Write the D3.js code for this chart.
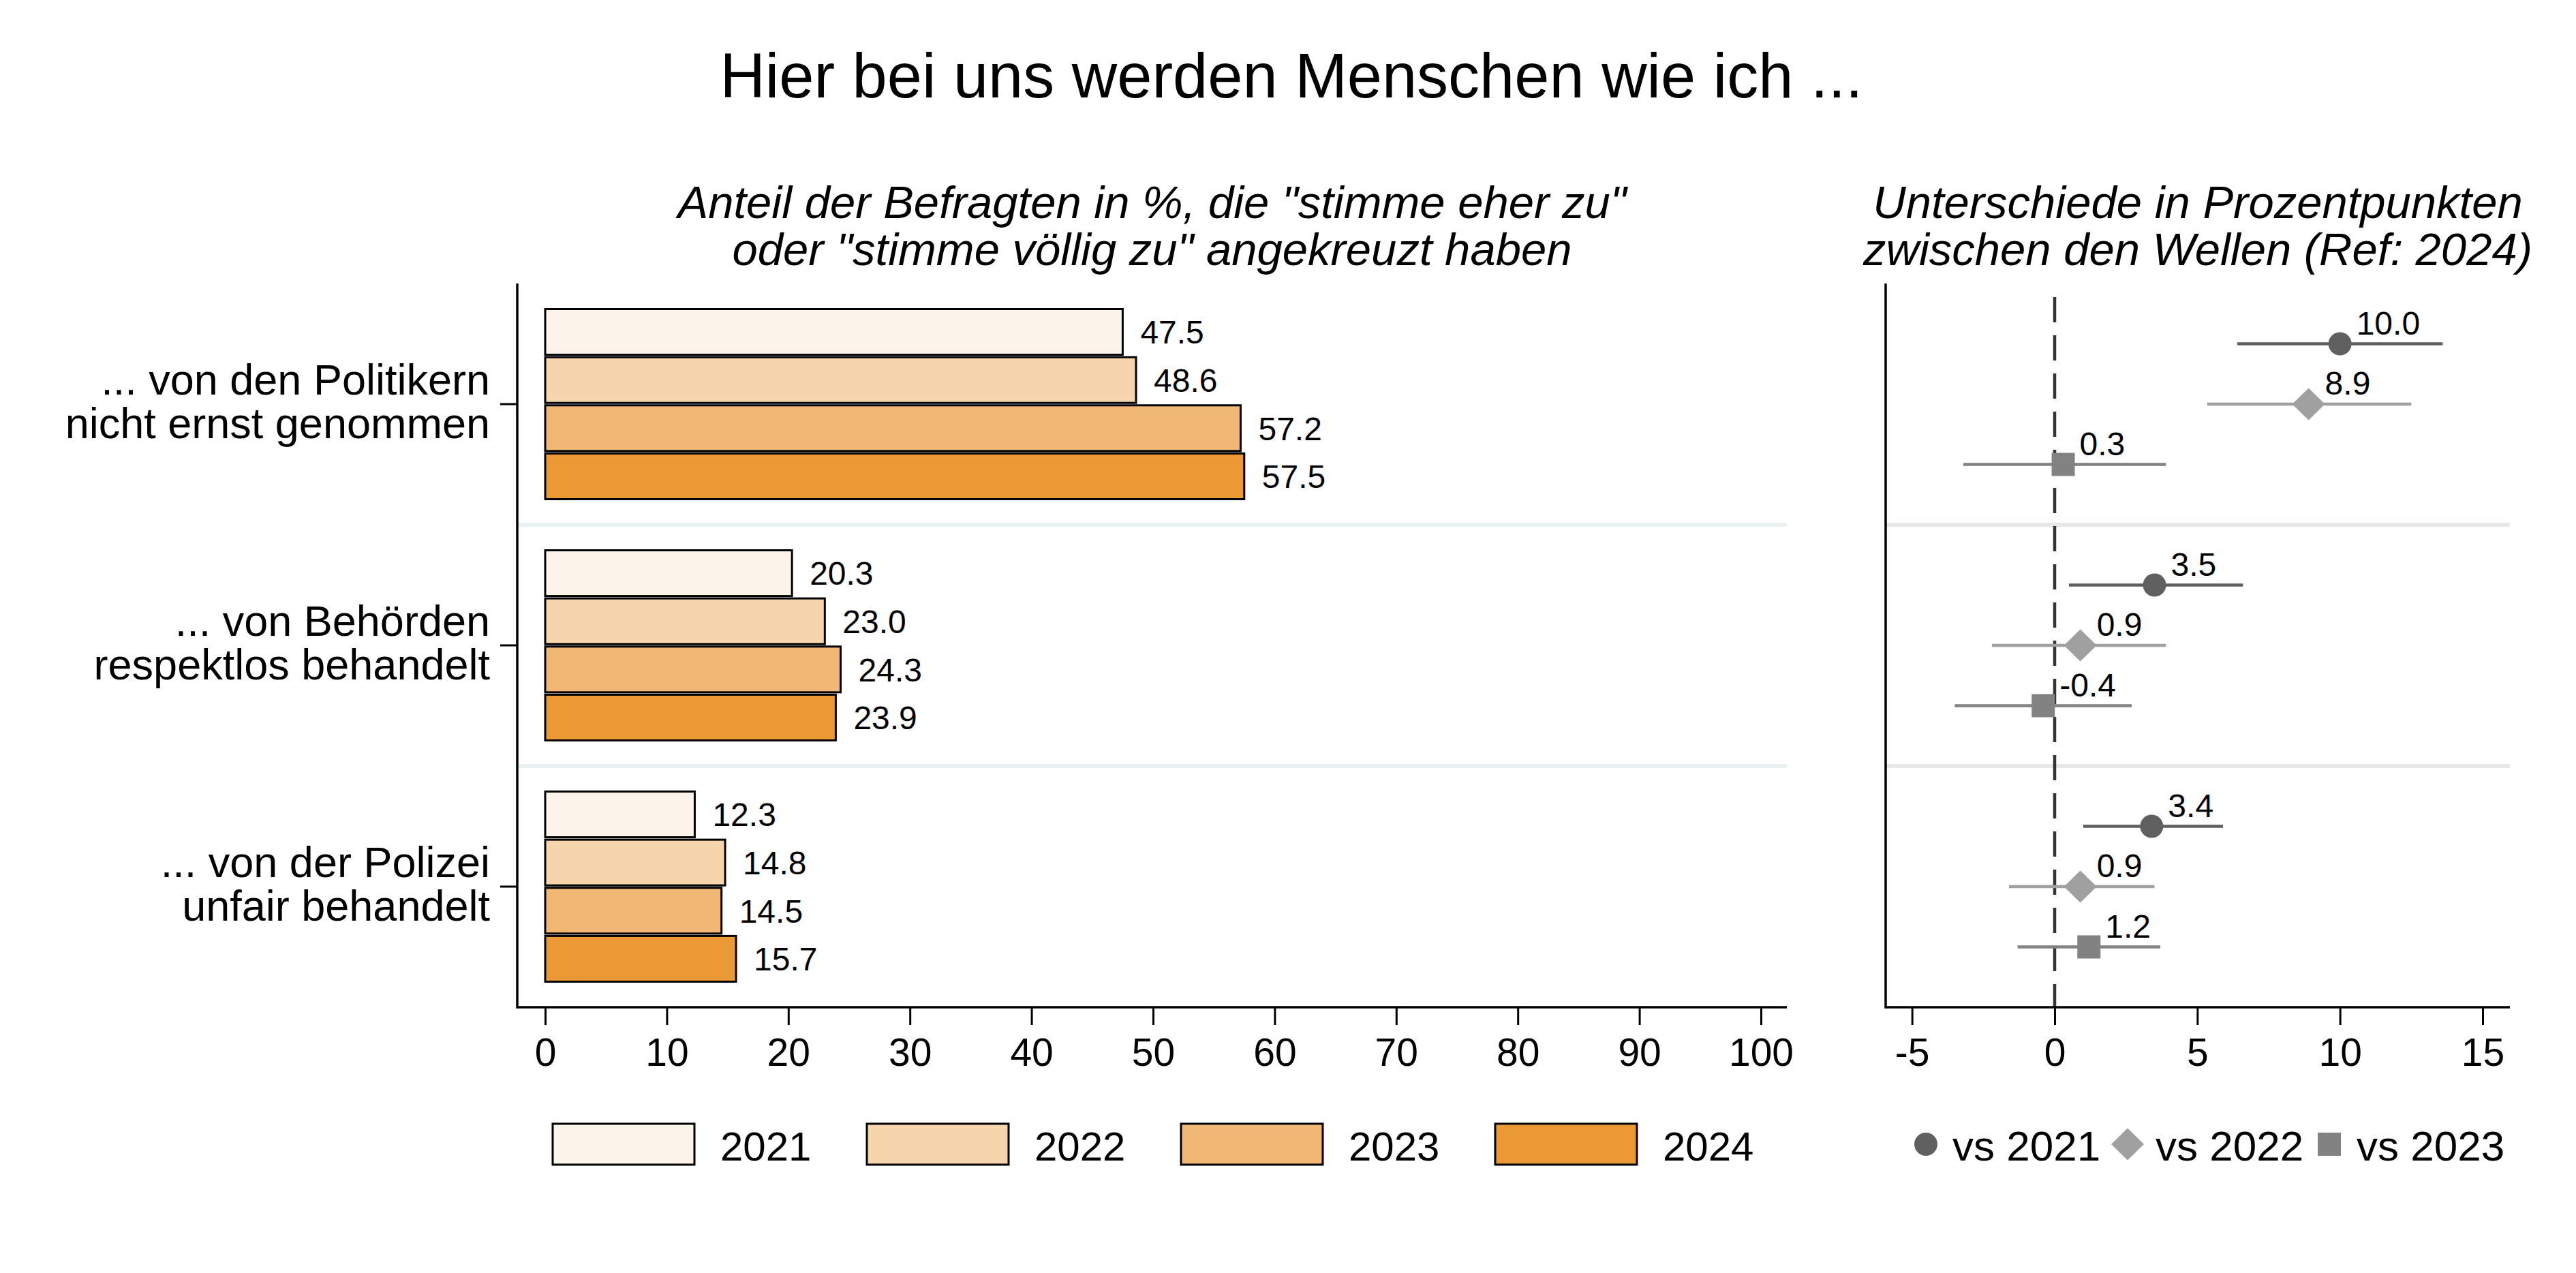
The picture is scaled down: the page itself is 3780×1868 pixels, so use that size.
<!DOCTYPE html>
<html>
<head>
<meta charset="utf-8">
<script src="https://cdn.jsdelivr.net/npm/d3@7"></script>
<style>
  body { margin: 0; background: #fff; }
  text { font-family: "Liberation Sans", Arial, sans-serif; }
</style>
</head>
<body>
<svg id="chart" width="3780" height="1868"></svg>
<script>
// data
const categories = [
  ['... von den Politikern', 'nicht ernst genommen'],
  ['... von Behörden', 'respektlos behandelt'],
  ['... von der Polizei', 'unfair behandelt']
]
const years = ['2021', '2022', '2023', '2024']
const v2021 = [47.5, 20.3, 12.3]
const v2022 = [48.6, 23.0, 14.8]
const v2023 = [57.2, 24.3, 14.5]
const v2024 = [57.5, 23.9, 15.7]

const diffNames = ['vs 2021', 'vs 2022', 'vs 2023']
const diffVs2021 = [10.0, 3.5, 3.4]
const diffVs2022 = [8.9, 0.9, 0.9]
const diffVs2023 = [0.3, -0.4, 1.2]
const loVs2021 = [6.4, 0.5, 1.0]
const hiVs2021 = [13.6, 6.6, 5.9]
const loVs2022 = [5.35, -2.2, -1.6]
const hiVs2022 = [12.5, 3.9, 3.5]
const loVs2023 = [-3.2, -3.5, -1.3]
const hiVs2023 = [3.9, 2.7, 3.7]

const leftTicks = [0, 10, 20, 30, 40, 50, 60, 70, 80, 90, 100]
const rightTicks = [-5, 0, 5, 10, 15]

const yearColors = ['#fcf4eb', '#f6d5ac', '#f0b874', '#ea9934']
const diffColors = ['#606060', '#a0a0a0', '#828282']

const svg = d3.select('#chart')
const fmt = v => d3.format('.1f')(v).replace('\u2212', '-')

const plotTop = 416, plotBottom = 1478
const catIdx = categories.map((c, i) => i)

// y band per category, shared by both panels
const y = d3.scaleBand().domain(catIdx).range([plotTop, plotBottom])
const yYear = d3.scaleBand().domain(years).range([37.5, 316.5]).paddingInner(0.05)
const yDiff = d3.scalePoint().domain(diffNames).range([-88.5, 88.5])

// left panel scales
const xL = d3.scaleLinear().domain([0, 100]).range([800, 2584])
const leftX0 = 759, leftX1 = 2622
// right panel scales
const xR = d3.scaleLinear().domain([0, 15]).range([3015, 3643])
const rightX0 = 2767, rightX1 = 3683

// title
svg.append('text').attr('x', 1895).attr('y', 143).attr('text-anchor', 'middle')
  .attr('font-size', 92).text('Hier bei uns werden Menschen wie ich ...')

const sub = (x, lines) => {
  lines.forEach((l, i) => {
    svg.append('text').attr('x', x).attr('y', 320 + i * 69).attr('text-anchor', 'middle')
      .attr('font-size', 67).attr('font-style', 'italic').text(l)
  })
}
sub((leftX0 + leftX1) / 2, ['Anteil der Befragten in %, die "stimme eher zu"', 'oder "stimme völlig zu" angekreuzt haben'])
sub((rightX0 + rightX1) / 2, ['Unterschiede in Prozentpunkten', 'zwischen den Wellen (Ref: 2024)'])

// separators
const seps = [1, 2].map(i => y(i))
svg.selectAll('.sepL').data(seps).enter().append('line')
  .attr('x1', leftX0).attr('x2', leftX1).attr('y1', d => d).attr('y2', d => d)
  .attr('stroke', '#eaf1f2').attr('stroke-width', 6)
svg.selectAll('.sepR').data(seps).enter().append('line')
  .attr('x1', rightX0).attr('x2', rightX1).attr('y1', d => d).attr('y2', d => d)
  .attr('stroke', '#e8e8e8').attr('stroke-width', 6)

// ---- left panel: bars
const barRows = []
categories.forEach((c, i) => {
  [v2021, v2022, v2023, v2024].forEach((arr, j) => {
    barRows.push({ cat: i, year: years[j], value: arr[i], color: yearColors[j] })
  })
})
const bars = svg.append('g')
bars.selectAll('rect').data(barRows).enter().append('rect')
  .attr('x', xL(0))
  .attr('y', d => y(d.cat) + yYear(d.year))
  .attr('width', d => xL(d.value) - xL(0))
  .attr('height', yYear.bandwidth())
  .attr('fill', d => d.color)
  .attr('stroke', '#000').attr('stroke-width', 3)
bars.selectAll('text').data(barRows).enter().append('text')
  .attr('x', d => xL(d.value) + 26)
  .attr('y', d => y(d.cat) + yYear(d.year) + yYear.bandwidth() / 2)
  .attr('dy', '0.36em')
  .attr('font-size', 48)
  .text(d => fmt(d.value))

// left axes
const axL = svg.append('g').attr('transform', `translate(0,${plotBottom})`)
  .call(d3.axisBottom(xL).tickValues(leftTicks).tickSize(26).tickSizeOuter(0).tickPadding(20))
axL.select('.domain').remove()
axL.selectAll('line').attr('stroke-width', 3)
axL.selectAll('text').attr('font-size', 57).attr('font-family', '"Liberation Sans", Arial, sans-serif')
svg.append('line').attr('x1', leftX0).attr('x2', leftX1).attr('y1', plotBottom).attr('y2', plotBottom)
  .attr('stroke', '#000').attr('stroke-width', 3.5)
svg.append('line').attr('x1', leftX0).attr('x2', leftX0).attr('y1', plotTop).attr('y2', plotBottom + 1.75)
  .attr('stroke', '#000').attr('stroke-width', 3.5)

const yTicks = svg.append('g')
catIdx.forEach(i => {
  const cy = y(i) + y.bandwidth() / 2
  yTicks.append('line').attr('x1', leftX0 - 25).attr('x2', leftX0).attr('y1', cy).attr('y2', cy)
    .attr('stroke', '#000').attr('stroke-width', 3)
  const t = yTicks.append('text').attr('text-anchor', 'end').attr('font-size', 63)
  categories[i].forEach((l, k) => {
    t.append('tspan').attr('x', 719).attr('y', cy - 14 + k * 64).text(l)
  })
})

// ---- right panel: differences with CIs
const diffRows = []
const diffs = [diffVs2021, diffVs2022, diffVs2023]
const los = [loVs2021, loVs2022, loVs2023]
const his = [hiVs2021, hiVs2022, hiVs2023]
categories.forEach((c, i) => {
  diffNames.forEach((n, j) => {
    diffRows.push({ cat: i, name: n, k: j, value: diffs[j][i], lo: los[j][i], hi: his[j][i] })
  })
})

// zero line
svg.append('line').attr('x1', xR(0)).attr('x2', xR(0)).attr('y1', 436).attr('y2', plotBottom)
  .attr('stroke', '#333').attr('stroke-width', 4.5).attr('stroke-dasharray', '37,19')

const cyR = d => y(d.cat) + y.bandwidth() / 2 + yDiff(d.name)
const pts = svg.append('g')
pts.selectAll('line').data(diffRows).enter().append('line')
  .attr('x1', d => xR(d.lo)).attr('x2', d => xR(d.hi))
  .attr('y1', cyR).attr('y2', cyR)
  .attr('stroke', d => diffColors[d.k]).attr('stroke-width', 4.5)

const symbols = [d3.symbolCircle, d3.symbolDiamond, d3.symbolSquare]
const symSize = [Math.PI * 17 * 17, 0, 34 * 34]
const symPath = k => {
  if (k === 1) return 'M0,-23.5L24,0L0,23.5L-24,0Z'
  return d3.symbol().type(symbols[k]).size(symSize[k])()
}
pts.selectAll('path').data(diffRows).enter().append('path')
  .attr('transform', d => `translate(${xR(d.value)},${cyR(d)})`)
  .attr('d', d => symPath(d.k))
  .attr('fill', d => diffColors[d.k])
pts.selectAll('text').data(diffRows).enter().append('text')
  .attr('x', d => xR(d.value) + 24)
  .attr('y', d => cyR(d) - 14)
  .attr('font-size', 48)
  .text(d => fmt(d.value))

const axR = svg.append('g').attr('transform', `translate(0,${plotBottom})`)
  .call(d3.axisBottom(xR).tickValues(rightTicks).tickFormat(d => String(d))
    .tickSize(26).tickSizeOuter(0).tickPadding(20))
axR.select('.domain').remove()
axR.selectAll('line').attr('stroke-width', 3)
axR.selectAll('text').attr('font-size', 57).attr('font-family', '"Liberation Sans", Arial, sans-serif')
svg.append('line').attr('x1', rightX0).attr('x2', rightX1).attr('y1', plotBottom).attr('y2', plotBottom)
  .attr('stroke', '#000').attr('stroke-width', 3.5)
svg.append('line').attr('x1', rightX0).attr('x2', rightX0).attr('y1', plotTop).attr('y2', plotBottom + 1.75)
  .attr('stroke', '#000').attr('stroke-width', 3.5)

// ---- legends
const legL = svg.append('g')
years.forEach((yr, j) => {
  const x0 = 811 + j * 461
  legL.append('rect').attr('x', x0).attr('y', 1649).attr('width', 208).attr('height', 60)
    .attr('fill', yearColors[j]).attr('stroke', '#000').attr('stroke-width', 3)
  legL.append('text').attr('x', x0 + 246).attr('y', 1703).attr('font-size', 60).text(yr)
})

const legR = svg.append('g')
const legSymX = [2826, 3122, 3418]
const legTextX = [2865, 3163, 3458]
diffNames.forEach((n, k) => {
  legR.append('path').attr('transform', `translate(${legSymX[k]},1679)`)
    .attr('d', symPath(k)).attr('fill', diffColors[k])
  legR.append('text').attr('x', legTextX[k]).attr('y', 1703).attr('font-size', 62).text(n)
})
</script>
</body>
</html>
